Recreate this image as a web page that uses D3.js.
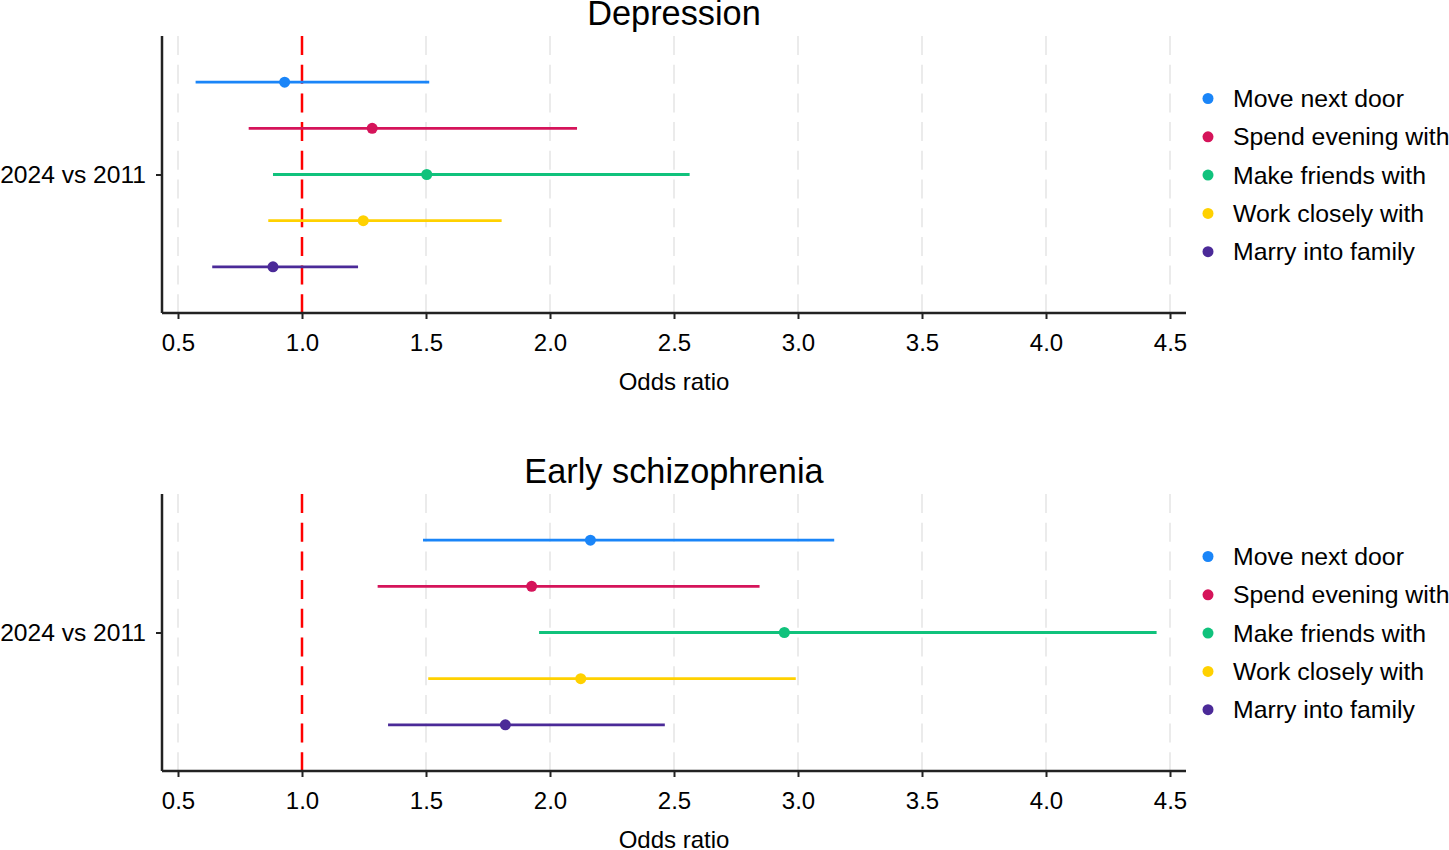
<!DOCTYPE html>
<html>
<head>
<meta charset="utf-8">
<script src="https://cdn.jsdelivr.net/npm/d3@7"></script>
<style>
  body { margin: 0; background: #fff; }
  text { font-family: "Liberation Sans", Arial, sans-serif; fill: #000; }
</style>
</head>
<body>
<svg id="chart" width="1449" height="850"></svg>
<script>
// data
const categories = ["Move next door", "Spend evening with", "Make friends with", "Work closely with", "Marry into family"];
const colors = ["#1a85f8", "#d5145a", "#10c27c", "#ffd100", "#4b2a98"];
const rowLabel = "2024 vs 2011";
const xTicks = [0.5, 1.0, 1.5, 2.0, 2.5, 3.0, 3.5, 4.0, 4.5];

const depOR   = [0.93, 1.283, 1.503, 1.247, 0.883];
const depLow  = [0.571, 0.785, 0.883, 0.864, 0.638];
const depHigh = [1.513, 2.109, 2.563, 1.805, 1.226];

const schOR   = [2.163, 1.926, 2.945, 2.124, 1.820];
const schLow  = [1.488, 1.305, 1.956, 1.509, 1.347];
const schHigh = [3.146, 2.845, 4.446, 2.991, 2.463];

const panels = [
  {title: "Depression", or: depOR, low: depLow, high: depHigh},
  {title: "Early schizophrenia", or: schOR, low: schLow, high: schHigh}
];

// layout
const plotLeft = 162, plotRight = 1186;
const plotTop = 36, plotH = 277;
const panelOffset = 458;

const svg = d3.select("#chart");

const x = d3.scaleLinear()
    .domain([0.5 - 16 / 248, 0.5 + (plotRight - 178) / 248])
    .range([plotLeft, plotRight]);

const y = d3.scaleLinear()
    .domain([0, 6])
    .range([0, plotH]);

panels.forEach(function(p, pi) {
  const g = svg.append("g")
      .attr("transform", "translate(0," + (plotTop + pi * panelOffset) + ")");

  // gridlines
  g.selectAll(".grid")
      .data(xTicks)
      .enter()
      .append("line")
      .attr("x1", d => x(d)).attr("x2", d => x(d))
      .attr("y1", 0).attr("y2", plotH)
      .attr("stroke", "#ebebeb")
      .attr("stroke-width", 2)
      .attr("stroke-dasharray", "19,9.7");

  // reference line at OR = 1
  g.append("line")
      .attr("x1", x(1)).attr("x2", x(1))
      .attr("y1", 0).attr("y2", plotH)
      .attr("stroke", "#ff0000")
      .attr("stroke-width", 2.5)
      .attr("stroke-dasharray", "19,9.7");

  // x axis
  const xAxis = g.append("g")
      .attr("transform", "translate(0," + plotH + ")")
      .call(d3.axisBottom(x).tickValues(xTicks).tickFormat(d3.format(".1f")).tickSize(6).tickPadding(15));
  xAxis.select(".domain").attr("stroke", "#222").attr("stroke-width", 2.5)
      .attr("d", "M" + plotLeft + ",0H" + plotRight);
  xAxis.selectAll(".tick line").attr("stroke", "#222").attr("stroke-width", 2);
  xAxis.selectAll(".tick text")
      .attr("font-size", 24)
      .style("font-family", "'Liberation Sans', Arial, sans-serif")
      .attr("fill", "#000");

  // y axis
  const yAxis = g.append("g")
      .attr("transform", "translate(" + plotLeft + ",0)")
      .call(d3.axisLeft(y).tickValues([3]).tickFormat(() => rowLabel).tickSize(6).tickPadding(10));
  yAxis.select(".domain").attr("stroke", "#222").attr("stroke-width", 2.5)
      .attr("d", "M0,0V" + plotH);
  yAxis.selectAll(".tick line").attr("stroke", "#222").attr("stroke-width", 2);
  yAxis.selectAll(".tick text")
      .attr("font-size", 24.6)
      .style("font-family", "'Liberation Sans', Arial, sans-serif")
      .attr("fill", "#000");

  // error bars
  g.selectAll(".ci")
      .data(categories)
      .enter()
      .append("line")
      .attr("x1", (d, i) => x(p.low[i]))
      .attr("x2", (d, i) => x(p.high[i]))
      .attr("y1", (d, i) => y(i + 1))
      .attr("y2", (d, i) => y(i + 1))
      .attr("stroke", (d, i) => colors[i])
      .attr("stroke-width", 2.8);

  // point estimates
  g.selectAll(".pt")
      .data(categories)
      .enter()
      .append("circle")
      .attr("cx", (d, i) => x(p.or[i]))
      .attr("cy", (d, i) => y(i + 1))
      .attr("r", 5.5)
      .attr("fill", (d, i) => colors[i]);

  // title
  g.append("text")
      .attr("x", (plotLeft + plotRight) / 2)
      .attr("y", -11)
      .attr("text-anchor", "middle")
      .attr("font-size", 34.3)
      .text(p.title);

  // axis title
  g.append("text")
      .attr("x", (plotLeft + plotRight) / 2)
      .attr("y", plotH + 77)
      .attr("text-anchor", "middle")
      .attr("font-size", 24)
      .text("Odds ratio");

  // legend
  const legend = g.append("g").attr("transform", "translate(1208,62.5)");
  const item = legend.selectAll(".item")
      .data(categories)
      .enter()
      .append("g")
      .attr("transform", (d, i) => "translate(0," + (i * 38.3) + ")");
  item.append("circle")
      .attr("r", 5.5)
      .attr("fill", (d, i) => colors[i]);
  item.append("text")
      .attr("x", 25)
      .attr("dy", "0.35em")
      .attr("font-size", 24.8)
      .text(d => d);
});
</script>
</body>
</html>
